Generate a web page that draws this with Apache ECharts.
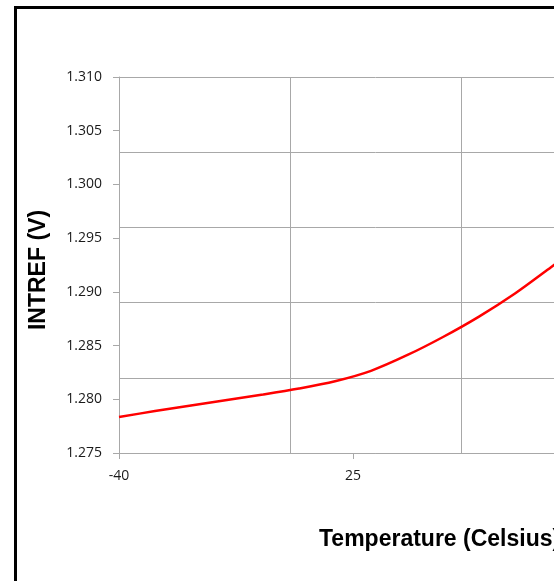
<!DOCTYPE html>
<html>
<head>
<meta charset="utf-8">
<script src="https://cdn.jsdelivr.net/npm/echarts@6/dist/echarts.min.js"></script>
<style>
html,body{margin:0;padding:0;background:#fff;overflow:hidden;width:554px;height:581px;}
#chart{width:760px;height:581px;}
</style>
</head>
<body>
<div id="chart"></div>
<script>
// Data
const temperatures = [-40, -30, -20, -10, 0, 10, 20, 30, 40, 50, 60, 70, 80, 90];
const intref = [1.27835, 1.2789, 1.27942, 1.27993, 1.28044, 1.281, 1.28168, 1.28265, 1.2841, 1.2858, 1.2877, 1.28985, 1.2923, 1.2948];
const xTickLabels = [-40, 25, 90];
const yTitle = 'INTREF (V)';
const xTitle = 'Temperature (Celsius)';

const chart = echarts.init(document.getElementById('chart'), null, {renderer: 'canvas'});
const grey = '#a8a8a8';
const seriesData = temperatures.map((t, i) => [t, intref[i]]);

chart.setOption({
  animation: false,
  backgroundColor: '#ffffff',
  grid: {left: 119, top: 77, width: 513, height: 376, containLabel: false},
  xAxis: [
    {
      type: 'value', min: -40, max: 102.5,
      axisLine: {show: true, onZero: false, lineStyle: {color: grey, width: 1}},
      axisTick: {show: true, length: 6, customValues: xTickLabels, lineStyle: {color: grey}},
      axisLabel: {show: true, customValues: xTickLabels, margin: 16, color: '#1a1a1a',
        fontFamily: 'Open Sans', fontSize: 14},
      splitLine: {show: false}
    },
    {
      type: 'value', min: 0, max: 3, interval: 1, position: 'top',
      axisLine: {show: false, onZero: false}, axisTick: {show: false}, axisLabel: {show: false},
      splitLine: {show: true, lineStyle: {color: grey, width: 1}}
    }
  ],
  yAxis: [
    {
      type: 'value', min: 1.275, max: 1.310, interval: 0.005, position: 'left',
      axisLine: {show: true, onZero: false, lineStyle: {color: grey, width: 1}},
      axisTick: {show: true, length: 6, lineStyle: {color: grey}},
      axisLabel: {show: true, margin: 17, color: '#1a1a1a', fontFamily: 'Open Sans', fontSize: 14,
        formatter: v => v.toFixed(3)},
      splitLine: {show: false}
    },
    {
      type: 'value', min: 0, max: 5, interval: 1, position: 'right',
      axisLine: {show: false, onZero: false}, axisTick: {show: false}, axisLabel: {show: false},
      splitLine: {show: true, lineStyle: {color: grey, width: 1}}
    }
  ],
  series: [{
    type: 'line', xAxisIndex: 0, yAxisIndex: 0,
    data: seriesData, smooth: 0.3, showSymbol: false,
    lineStyle: {color: '#ff0000', width: 2.5}, z: 5
  }],
  graphic: [
    {type: 'rect', shape: {x: 15.5, y: 7.5, width: 900, height: 800},
      style: {fill: 'none', stroke: '#000', lineWidth: 3}, silent: true, z: 100},
    {type: 'text', x: 39, y: 270, rotation: Math.PI / 2,
      style: {text: yTitle, font: 'bold 23px "Liberation Sans", Arial, sans-serif',
        fill: '#000', align: 'center', verticalAlign: 'middle'}},
    {type: 'text', x: 319, y: 540,
      style: {text: xTitle, font: 'bold 23px "Liberation Sans", Arial, sans-serif',
        fill: '#000', align: 'left', verticalAlign: 'middle'}}
  ]
});
</script>
</body>
</html>
